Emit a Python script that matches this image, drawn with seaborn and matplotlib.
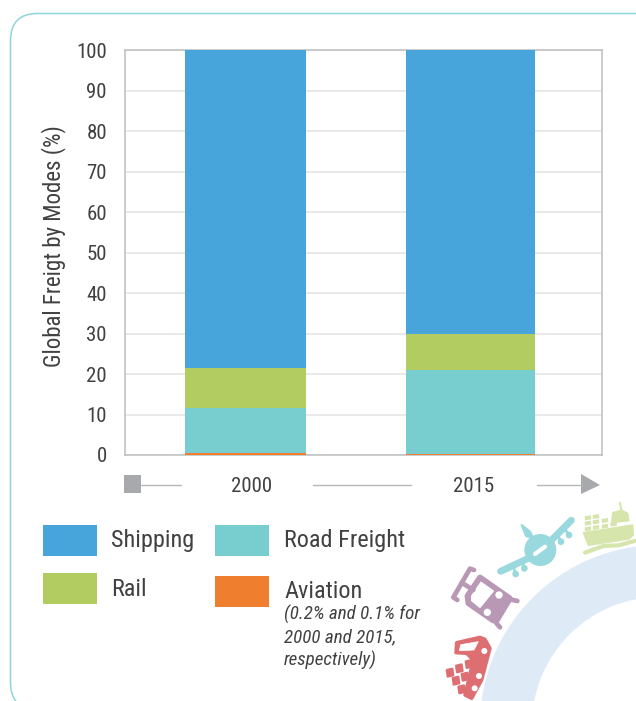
import numpy as np
import matplotlib.pyplot as plt
import seaborn as sns
from matplotlib.patches import Circle, FancyBboxPatch, Polygon, Rectangle, Wedge

# Data (% of global freight)
years = ["2000", "2015"]
aviation = np.array([0.4, 0.15])
road = np.array([11.2, 20.85])
rail = np.array([9.9, 9.0])
shipping = np.array([78.5, 70.0])
y_ticks = list(range(0, 101, 10))

BLUE = "#47a5dc"
GREEN = "#b2cc62"
TEAL = "#78cdcf"
ORANGE = "#ef7f2e"
TEXT = "#414042"
GREY = "#a7a9ac"

sns.set_style("white")
plt.rcParams["font.family"] = ["Roboto Condensed", "DejaVu Sans"]

fig = plt.figure(figsize=(6.36, 7.01), dpi=100)

# overlay in picture pixels for the card, legend and icons
bg = fig.add_axes([0, 0, 1, 1], zorder=0)
bg.set_xlim(0, 636)
bg.set_ylim(701, 0)
bg.axis("off")

ax = fig.add_axes([125 / 636, 246 / 701, 477 / 636, 405 / 701], zorder=1)
ax.patch.set_alpha(0)

# -------- STACKED BARS --------
layers = [(aviation, ORANGE), (road, TEAL), (rail, GREEN), (shipping, BLUE)]
tops = np.cumsum([l[0] for l in layers], axis=0)
for top, (_, color) in reversed(list(zip(tops, layers))):
    sns.barplot(x=years, y=top, color=color, saturation=1, width=0.55, linewidth=0, ax=ax, zorder=3)

# the two columns are not the same width in the reference
bar_widths = [0.538, 0.573]
for p in ax.patches:
    i = int(round(p.get_x() + p.get_width() / 2))
    p.set_x(i - bar_widths[i] / 2)
    p.set_width(bar_widths[i])

ax.set_xlim(-0.536, 1.584)
ax.set_ylim(0, 100)
ax.set_yticks(y_ticks)
ax.set_xticks([])
ax.set_xlabel("")
ax.grid(axis="y", color="#e3e3e3", lw=1.1)
ax.set_axisbelow(True)
ax.tick_params(axis="y", length=0, pad=13, labelsize=15, labelcolor=TEXT)
for s in ax.spines.values():
    s.set_visible(True)
    s.set_color("#bcbec0")
    s.set_linewidth(1.1)
ax.set_ylabel("Global Freigt by Modes (%)", fontsize=16.5, color=TEXT)
ax.yaxis.set_label_coords(-0.124, 0.516)

# -------- CARD AND RING --------
bg.add_patch(FancyBboxPatch((10.5, 13.5), 800, 696, boxstyle="round,pad=0,rounding_size=27",
                            fc="white", ec="#8fd5d9", lw=1.1, clip_on=True))
bg.add_patch(Wedge((660, 725), 180, 0, 360, width=52, fc="#dfeaf7", ec="none"))

# -------- TIME ARROW --------
bg.add_patch(Rectangle((124, 475), 17, 18, fc=GREY, ec="none"))
for x0, x1 in [(141, 181), (313, 411), (537, 582)]:
    bg.plot([x0, x1], [484.5, 484.5], color="#b5b7ba", lw=1)
bg.add_patch(Polygon([(581, 474), (600, 485), (581, 494)], fc=GREY, ec="none"))
for label, x in zip(years, [252, 474]):
    bg.text(x, 487, label, ha="center", va="center", fontsize=15, color=TEXT)

# -------- LEGEND --------
legend_items = [("Shipping", BLUE, 43, 525, 111, 541), ("Road Freight", TEAL, 215, 525, 284, 541),
                ("Rail", GREEN, 43, 573, 111, 590), ("Aviation", ORANGE, 215, 576, 284, 591)]
for label, color, x, y, tx, ty in legend_items:
    bg.add_patch(Rectangle((x, y), 54, 31, fc=color, ec="none"))
    bg.text(tx, ty, label, ha="left", va="center", fontsize=17.5, color=TEXT)
for i, line in enumerate(["(0.2% and 0.1% for", "2000 and 2015,", "respectively)"]):
    bg.text(284, 614 + i * 23, line, ha="left", va="center", fontsize=13.7,
            style="italic", color=TEXT)


# icons were measured on a 3x crop starting at (430, 490)
def z(*pts):
    return [(430 + x / 3, 490 + y / 3) for x, y in pts]


def stroke(color, lw, *pts):
    xs, ys = zip(*z(*pts))
    bg.plot(xs, ys, color=color, lw=lw, solid_capstyle="round", solid_joinstyle="round")


def blob(color, *pts, lw=1.5):
    bg.add_patch(Polygon(z(*pts), fc=color, ec=color, lw=lw, joinstyle="round"))


def dot(color, x, y, r):
    bg.add_patch(Circle(z((x, y))[0], r / 3, fc=color, ec="none"))


# plane
PLANE = "#99d8dc"
stroke(PLANE, 5, (212, 244), (295, 205))
stroke(PLANE, 5, (365, 150), (424, 91))
blob(PLANE, (275, 105), (300, 125), (310, 145), (288, 138))
dot(PLANE, 331, 180, 48)
for x, y, x2, y2 in [(283, 235, 277, 215), (257, 252, 250, 228), (393, 155, 382, 135), (417, 135, 403, 115)]:
    stroke(PLANE, 2, (x, y), (x2, y2))
    dot(PLANE, x, y, 10)
stroke("white", 3, (315, 192), (345, 170))

# train
TRAIN = "#b898b4"
stroke(TRAIN, 3.4, (132, 240), (120, 236), (70, 322), (82, 330))
stroke(TRAIN, 3.4, (95, 278), (130, 300))
stroke(TRAIN, 3.4, (262, 333), (240, 328), (198, 398), (210, 412))
blob(TRAIN, (150, 262), (240, 325), (190, 392), (115, 340), (112, 318), lw=4)
blob("white", (153, 277), (190, 303), (150, 352), (125, 332), (125, 318), lw=1)
dot("white", 207, 315, 11)
dot("white", 172, 367, 11)

# truck
TRUCK = "#dd6f73"
blob(TRUCK, (80, 458), (150, 442), (165, 448), (180, 475), (172, 505), (155, 570),
     (125, 625), (105, 615), (130, 510), (110, 490), (78, 488), lw=2.5)
blob("white", (92, 464), (145, 455), (132, 480), (88, 482), lw=0.5)
for x, y in [(163, 483), (147, 558), (134, 595)]:
    dot("white", x, y, 9)
for x, y in [(60, 548), (88, 535), (117, 522), (78, 572), (105, 560), (95, 598)]:
    blob(TRUCK, (x - 10, y - 8), (x + 7, y - 12), (x + 10, y + 8), (x - 7, y + 12), lw=1.5)

# ship
SHIP = "#d6e5ab"
blob(SHIP, (460, 128), (608, 105), (610, 135), (597, 147), (475, 166), lw=1)
stroke(SHIP, 3, (465, 188), (520, 168), (565, 166), (618, 152))
blob(SHIP, (545, 98), (597, 92), (593, 70), (575, 60), (548, 68), lw=1)
stroke(SHIP, 1.5, (570, 38), (575, 65))
for x, y in [(474, 84), (498, 80), (474, 100), (498, 96), (525, 92), (474, 117), (498, 113),
             (525, 109), (551, 103)]:
    blob(SHIP, (x - 10, y - 5), (x + 9, y - 8), (x + 10, y + 4), (x - 9, y + 7), lw=0)

fig.savefig("out.png", dpi=100)
plt.close(fig)
